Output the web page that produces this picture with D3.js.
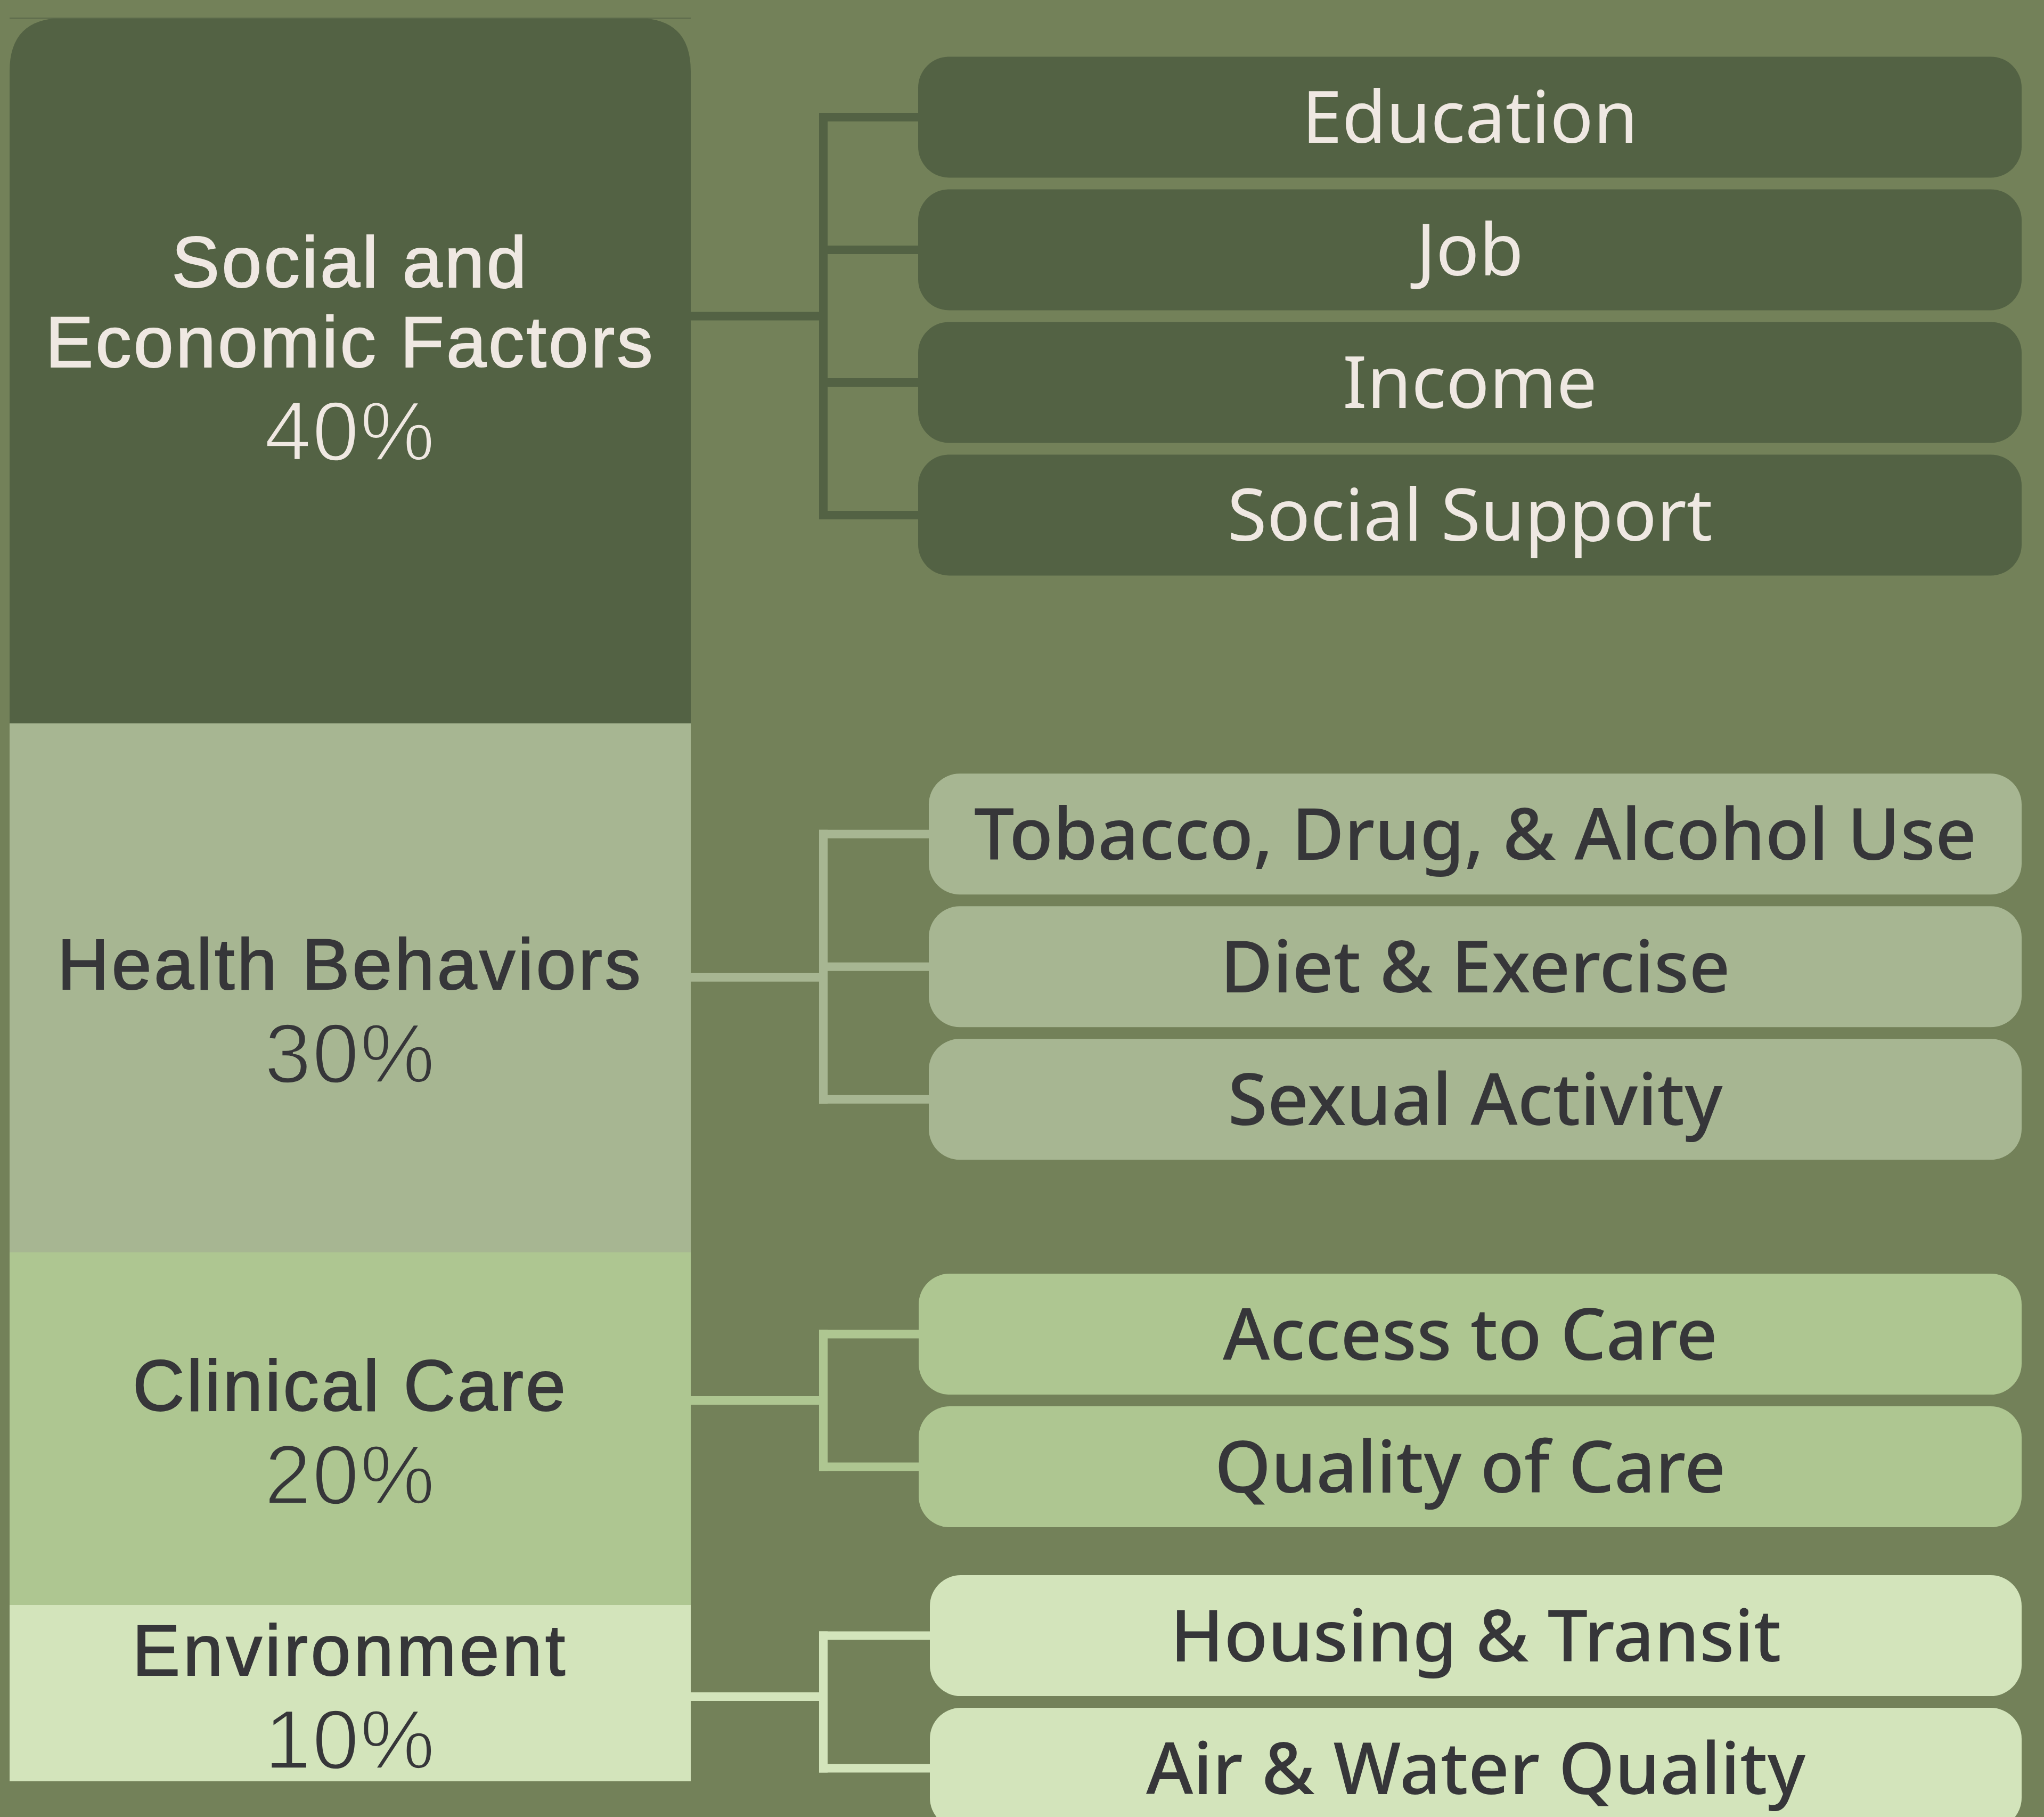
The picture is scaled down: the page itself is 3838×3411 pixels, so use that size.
<!DOCTYPE html>
<html>
<head>
<meta charset="utf-8">
<script src="https://cdn.jsdelivr.net/npm/d3@7"></script>
<style>
  html, body { margin: 0; padding: 0; background: #738159; }
  svg { display: block; }
</style>
</head>
<body>
<div id="chart"></div>
<script>
// ---------------- data ----------------
const categories = ["Social and Economic Factors", "Health Behaviors", "Clinical Care", "Environment"];
const shares = [40, 30, 20, 10];
const nameLines = [["Social and", "Economic Factors"], ["Health Behaviors"], ["Clinical Care"], ["Environment"]];
const subFactors = [
  ["Education", "Job", "Income", "Social Support"],
  ["Tobacco, Drug, & Alcohol Use", "Diet & Exercise", "Sexual Activity"],
  ["Access to Care", "Quality of Care"],
  ["Housing & Transit", "Air & Water Quality"]
];

// ---------------- styles / layout ----------------
const W = 3838, H = 3411;
const bg = "#738159";
const fills = ["#536244", "#a7b692", "#aec691", "#d3e4bb"];
const textFills = ["#efe8e2", "#363639", "#363639", "#363639"];
const subWeights = [400, 500, 500, 500];
const childrenAt = [16.9, 53.8, 78.4, 95.5];   // centre of child stack, in the share scale
const linkAt = [16.9, 54.4, 78.4, 95.2];       // column-to-trunk link, in the share scale
const labelNudge = [-43, 41, 5, 5];
const nameSpacing = [4, 4.5, 4, 5.5];
const boxLeft = [1724, 1744, 1725, 1746];
const fontFamily = "'Noto Sans', 'Open Sans', sans-serif";
const labelFamily = "'Liberation Sans', Arial, sans-serif";

const y = d3.scaleLinear().domain([0, 100]).range([34, 3344]);
const x = d3.scaleLinear().domain([0, 1]).range([18, 1297]);   // left column
const trunkX = 1546, boxRight = 3796, boxH = 227, pitch = 249, boxR = 58;
const lineW = 16;

const svg = d3.select("#chart").append("svg")
  .attr("width", W).attr("height", H)
  .attr("viewBox", `0 0 ${W} ${H}`);

svg.append("rect").attr("width", W).attr("height", H).attr("fill", bg);

const cum = d3.cumsum([0, ...shares]);
const groups = categories.map((c, i) => ({
  name: c, i, share: shares[i], start: cum[i], end: cum[i + 1],
  lines: nameLines[i], subs: subFactors[i]
}));

// ---------------- left stacked column ----------------
const r = 100;
groups.forEach(g => {
  const x0 = x(0), x1 = x(1), y0 = y(g.start), y1 = y(g.end);
  if (g.i === 0) {
    svg.append("path")
      .attr("d", `M${x0},${y1} L${x0},${y0 + r} Q${x0},${y0} ${x0 + r},${y0} L${x1 - r},${y0} Q${x1},${y0} ${x1},${y0 + r} L${x1},${y1} Z`)
      .attr("fill", fills[g.i]);
  } else {
    svg.append("rect").attr("x", x0).attr("y", y0)
      .attr("width", x1 - x0).attr("height", y1 - y0).attr("fill", fills[g.i]);
  }
});
// thin line at the top edge
svg.append("line").attr("x1", x(0)).attr("x2", x(1)).attr("y1", y(0)).attr("y2", y(0))
  .attr("stroke", "#5b6a4b").attr("stroke-width", 2);

// labels in the column
const capName = 97, nameStep = 150, pctStep = 175;
groups.forEach(g => {
  const cx = (x(0) + x(1)) / 2;
  const cy = (y(g.start) + y(g.end)) / 2;
  const n = g.lines.length;
  const total = capName + (n - 1) * nameStep + pctStep;
  const firstBase = cy - total / 2 + capName + labelNudge[g.i];
  const t = svg.append("g").attr("fill", textFills[g.i]).attr("font-family", labelFamily)
    .attr("text-anchor", "middle");
  g.lines.forEach((ln, k) => {
    t.append("text").attr("x", cx).attr("y", firstBase + k * nameStep)
      .attr("font-size", 135).attr("letter-spacing", nameSpacing[g.i])
      .attr("stroke", textFills[g.i]).attr("stroke-width", 2).attr("paint-order", "stroke")
      .text(ln);
  });
  // percentage: thin strokes (block-coloured outline erodes the glyphs slightly)
  t.append("text").attr("x", cx).attr("y", firstBase + (n - 1) * nameStep + pctStep)
    .attr("font-size", 158).attr("letter-spacing", 2)
    .attr("stroke", fills[g.i]).attr("stroke-width", 3.5)
    .text(g.share + "%");
});

// ---------------- connectors and sub-factor boxes ----------------
groups.forEach(g => {
  const anchor = y(childrenAt[g.i]);
  const link = y(linkAt[g.i]);
  const n = g.subs.length;
  const centers = g.subs.map((s, k) => anchor + (k - (n - 1) / 2) * pitch);
  const col = fills[g.i];
  const conn = svg.append("g").attr("stroke", col).attr("stroke-width", lineW)
    .attr("fill", "none").attr("stroke-linecap", "square");
  // from column to trunk
  conn.append("line").attr("x1", x(1) + lineW / 2).attr("x2", trunkX)
    .attr("y1", link).attr("y2", link);
  // trunk
  conn.append("line").attr("x1", trunkX).attr("x2", trunkX)
    .attr("y1", centers[0]).attr("y2", centers[n - 1]);
  // branches
  centers.forEach(c => {
    conn.append("line").attr("x1", trunkX).attr("x2", boxLeft[g.i] + 20)
      .attr("y1", c).attr("y2", c);
  });
  // boxes
  centers.forEach((c, k) => {
    svg.append("rect").attr("x", boxLeft[g.i]).attr("y", c - boxH / 2)
      .attr("width", boxRight - boxLeft[g.i]).attr("height", boxH)
      .attr("rx", boxR).attr("ry", boxR).attr("fill", col);
    svg.append("text").attr("x", (boxLeft[g.i] + boxRight) / 2).attr("y", c + 48)
      .attr("text-anchor", "middle").attr("font-family", fontFamily)
      .attr("font-size", 135).attr("font-weight", subWeights[g.i])
      .attr("fill", textFills[g.i]).text(g.subs[k]);
  });
});
</script>
</body>
</html>
